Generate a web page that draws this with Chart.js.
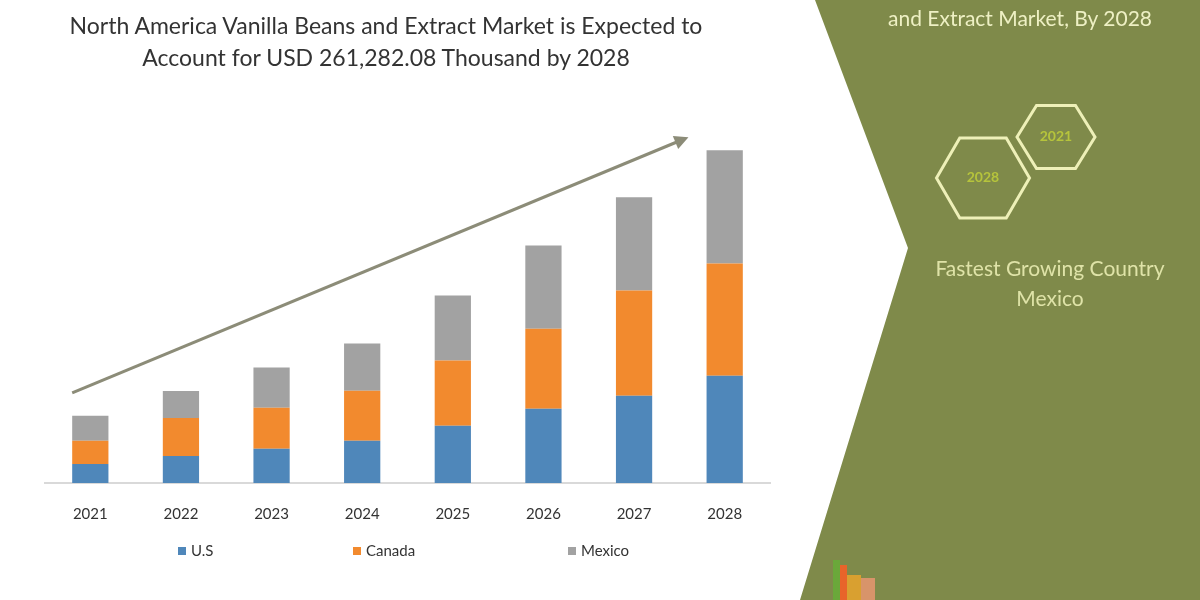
<!DOCTYPE html>
<html>
<head>
<meta charset="utf-8">
<script src="https://cdn.jsdelivr.net/npm/chart.js@4"></script>
<style>
    body { margin: 0; width: 1200px; height: 600px; background: #fff; overflow: hidden; font-family: Lato, sans-serif; }
    #chartBox { position: absolute; left: 0; top: 0; width: 790px; height: 600px; }
    #panel { position: absolute; left: 0; top: 0; }
    #title { position: absolute; left: 0; top: 9px; width: 772px; text-align: center; font-size: 23px; line-height: 32px; color: #333; }
    .ptext { position: absolute; color: #eef0c4; font-family: Lato, sans-serif; text-align: center; white-space: nowrap; }
    #legend { position: absolute; top: 541px; left: 0; width: 790px; height: 20px; font-family: Lato, sans-serif; font-size: 15px; color: #333; }
    #legend span { position: absolute; white-space: nowrap; }
    #legend i { display: inline-block; width: 8px; height: 8px; margin-right: 5px; vertical-align: 1px; }
</style>
</head>
<body>
<canvas id="panel" width="1200" height="600"></canvas>
<div id="chartBox"><canvas id="marketChart"></canvas></div>
<div id="title">North America Vanilla Beans and Extract Market is Expected to<br>Account for USD 261,282.08 Thousand by 2028</div>
<div id="legend"></div>
<div class="ptext" style="left:860px; top:5px; width:320px; font-size:21px;">and Extract Market, By 2028</div>
<div class="ptext" style="left:933px; top:168px; width:100px; font-size:14px; color:#b6c43c; font-weight:bold;">2028</div>
<div class="ptext" style="left:1006px; top:127px; width:100px; font-size:14px; color:#b6c43c; font-weight:bold;">2021</div>
<div class="ptext" style="left:920px; top:255px; width:260px; font-size:21px; color:#dfe3a8;">Fastest Growing Country</div>
<div class="ptext" style="left:920px; top:285px; width:260px; font-size:21px; color:#dfe3a8;">Mexico</div>

<script>
// values in USD thousand
const years = ["2021", "2022", "2023", "2024", "2025", "2026", "2027", "2028"]
const usValues = [15000, 21200, 26800, 33100, 44900, 58200, 68500, 84200]
const canadaValues = [18100, 29900, 32300, 39400, 51200, 63000, 82600, 88100]
const mexicoValues = [19700, 21200, 31500, 37000, 51200, 65300, 73200, 88900]
// growth arrow: [category index, value]
const trendLine = [[-0.2, 70800], [6.6, 271500]]
// where each legend entry starts (the legend is uneven in the picture)
const legendLeft = [178, 353, 568]

// green side panel behind the chart
const drawPanel = () => {
    const ctx = document.getElementById("panel").getContext("2d")
    ctx.fillStyle = "#7f8a4a"
    ctx.beginPath()
    ctx.moveTo(815, 0)
    ctx.lineTo(1200, 0)
    ctx.lineTo(1200, 600)
    ctx.lineTo(800, 600)
    ctx.lineTo(908, 248)
    ctx.closePath()
    ctx.fill()

    const hexagon = (cx, cy, w, h) => {
        ctx.beginPath()
        ctx.moveTo(cx - w / 2, cy)
        ctx.lineTo(cx - w / 4, cy - h / 2)
        ctx.lineTo(cx + w / 4, cy - h / 2)
        ctx.lineTo(cx + w / 2, cy)
        ctx.lineTo(cx + w / 4, cy + h / 2)
        ctx.lineTo(cx - w / 4, cy + h / 2)
        ctx.closePath()
        ctx.stroke()
    }
    ctx.strokeStyle = "#eef0b8"
    ctx.lineWidth = 3
    hexagon(1056, 137, 78, 63)
    hexagon(983, 178, 93, 80)

    // little logo at the bottom
    ctx.fillStyle = "#6aa83a"; ctx.fillRect(833, 560, 7, 40)
    ctx.fillStyle = "#e8642a"; ctx.fillRect(840, 565, 7, 35)
    ctx.fillStyle = "#d9a030"; ctx.fillRect(847, 575, 14, 25)
    ctx.fillStyle = "#d8946a"; ctx.fillRect(861, 578, 14, 22)
}
drawPanel()

const arrowPlugin = {
    id: "growthArrow",
    afterDatasetsDraw(chart) {
        const { ctx, scales } = chart
        const [x0, y0] = [scales.x.getPixelForValue(trendLine[0][0]), scales.y.getPixelForValue(trendLine[0][1])]
        const [x1, y1] = [scales.x.getPixelForValue(trendLine[1][0]), scales.y.getPixelForValue(trendLine[1][1])]
        const angle = Math.atan2(y1 - y0, x1 - x0)
        ctx.save()
        ctx.strokeStyle = "#8c8c78"
        ctx.fillStyle = "#8c8c78"
        ctx.lineWidth = 3
        ctx.beginPath()
        ctx.moveTo(x0, y0)
        ctx.lineTo(x1 - 8 * Math.cos(angle), y1 - 8 * Math.sin(angle))
        ctx.stroke()
        ctx.translate(x1, y1)
        ctx.rotate(angle)
        ctx.beginPath()
        ctx.moveTo(0, 0)
        ctx.lineTo(-14, -7)
        ctx.lineTo(-14, 7)
        ctx.closePath()
        ctx.fill()
        ctx.restore()
    },
}

const ctx = document.getElementById("marketChart").getContext("2d")
const chart = new Chart(ctx, {
    type: "bar",
    data: {
        labels: years,
        datasets: [
            { label: "U.S", data: usValues, backgroundColor: "#4f87ba" },
            { label: "Canada", data: canadaValues, backgroundColor: "#f28a2e" },
            { label: "Mexico", data: mexicoValues, backgroundColor: "#a2a2a2" },
        ],
    },
    options: {
        responsive: true,
        maintainAspectRatio: false,
        animation: false,
        layout: { padding: { left: 45, right: 20, top: 120, bottom: 63 } },
        datasets: { bar: { barPercentage: 0.4, categoryPercentage: 1 } },
        scales: {
            x: {
                stacked: true,
                grid: { display: false },
                border: { color: "#d9d9d9", width: 2 },
                ticks: { color: "#333", font: { family: "Lato", size: 15 }, padding: 14 },
            },
            y: {
                stacked: true,
                min: 0,
                max: 285000,
                display: false,
            },
        },
        plugins: {
            title: { display: false },
            legend: { display: false },
            tooltip: { enabled: false },
        },
    },
    plugins: [arrowPlugin],
})

// html legend built from the datasets
const legendBox = document.getElementById("legend")
chart.data.datasets.forEach((ds, i) => {
    const item = document.createElement("span")
    item.style.left = legendLeft[i] + "px"
    item.innerHTML = '<i style="background:' + ds.backgroundColor + '"></i>' + ds.label
    legendBox.appendChild(item)
})
</script>
</body>
</html>
